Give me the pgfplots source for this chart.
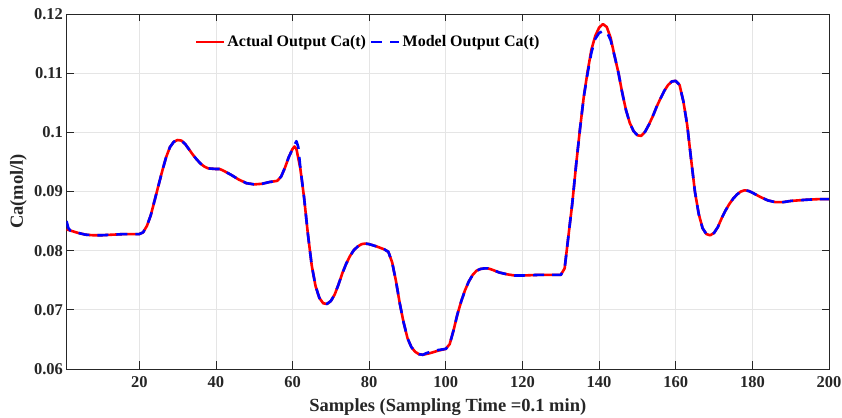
\documentclass[border=0pt]{standalone}
\usepackage{fontspec}
\setmainfont{Liberation Serif}
\usepackage{pgfplots}
\usepackage{pgfplotstable}
\pgfplotsset{compat=1.18}

\pgfplotstableread{
x y
1 0.0836
2 0.0834
4 0.0830
6 0.0827
8 0.0826
10 0.0826
13 0.0827
16 0.0828
20 0.0828
21 0.0831
22 0.0842
23 0.0860
24 0.0885
25 0.0910
26 0.0935
27 0.0958
28 0.0975
29 0.0984
30 0.0987
31 0.0986
32 0.0980
33 0.0971
34 0.0962
35 0.0954
36 0.0947
37 0.0942
38 0.0939
40 0.0938
41 0.0938
42 0.0935
44 0.0928
46 0.0920
48 0.0914
50 0.0912
52 0.0913
54 0.0916
56 0.0918
57 0.0925
58 0.0940
59 0.0958
60 0.0972
60.5 0.0976
61 0.0972
62 0.0940
63 0.0890
64 0.0828
65 0.0775
66 0.0740
67 0.0720
68 0.0711
69 0.0710
70 0.0715
71 0.0726
72 0.0743
73 0.0762
74 0.0778
75 0.0791
76 0.0801
77 0.0807
78 0.0811
79 0.0812
80 0.0811
82 0.0807
84 0.0802
85 0.0798
86 0.0780
87 0.0748
88 0.0710
89 0.0678
90 0.0652
91 0.0637
92 0.0629
93 0.0625
94 0.0624
96 0.0627
98 0.0631
100 0.0634
101 0.0642
102 0.0665
103 0.0692
104 0.0714
105 0.0733
106 0.0748
107 0.0759
108 0.0766
109 0.0769
110 0.0770
111 0.0770
112 0.0768
114 0.0763
116 0.0760
118 0.0758
120 0.0758
124 0.0759
128 0.0759
130 0.0759
131 0.0770
132 0.0825
133 0.0880
134 0.0945
135 0.1005
136 0.1060
137 0.1103
138 0.1140
139 0.1163
140 0.1177
141 0.1183
142 0.1178
143 0.1160
144 0.1130
145 0.1102
146 0.1068
147 0.1038
148 0.1016
149 0.1002
150 0.0995
151 0.0994
152 0.1001
153 0.1013
154 0.1027
155 0.1043
156 0.1057
157 0.1070
158 0.1080
159 0.1086
160 0.1087
161 0.1080
162 0.1052
163 0.1012
164 0.0955
165 0.0900
166 0.0862
167 0.0838
168 0.0828
169 0.0826
170 0.0830
171 0.0840
172 0.0855
173 0.0868
174 0.0879
175 0.0888
176 0.0895
177 0.0900
178 0.0902
179 0.0901
180 0.0898
182 0.0891
184 0.0885
186 0.0882
188 0.0882
190 0.0884
194 0.0886
197 0.0887
200 0.0887
}\actual

\pgfplotstableread{
x y
1 0.0850
1.5 0.0838
2 0.0834
4 0.0830
6 0.0827
8 0.0826
10 0.0826
13 0.0827
16 0.0828
20 0.0828
21 0.0831
22 0.0842
23 0.0860
24 0.0885
25 0.0910
26 0.0935
27 0.0958
28 0.0975
29 0.0984
30 0.0987
31 0.0986
32 0.0980
33 0.0971
34 0.0962
35 0.0954
36 0.0947
37 0.0942
38 0.0939
40 0.0938
41 0.0938
42 0.0935
44 0.0928
46 0.0920
48 0.0914
50 0.0912
52 0.0913
54 0.0916
56 0.0918
57 0.0925
58 0.0940
59 0.0958
60 0.0972
61 0.0985
61.5 0.0975
62 0.0942
63 0.0890
64 0.0828
65 0.0775
66 0.0740
67 0.0720
68 0.0711
69 0.0710
70 0.0715
71 0.0726
72 0.0743
73 0.0762
74 0.0778
75 0.0791
76 0.0801
77 0.0807
78 0.0811
79 0.0812
80 0.0811
82 0.0807
84 0.0802
85 0.0798
86 0.0780
87 0.0748
88 0.0710
89 0.0678
90 0.0652
91 0.0637
92 0.0629
93 0.0625
94 0.0624
95 0.0627
96 0.0629
98 0.0632
100 0.0634
101 0.0642
102 0.0665
103 0.0692
104 0.0714
105 0.0733
106 0.0748
107 0.0759
108 0.0766
109 0.0769
110 0.0770
111 0.0770
112 0.0768
114 0.0763
116 0.0760
118 0.0758
120 0.0758
124 0.0759
128 0.0759
130 0.0759
131 0.0770
132 0.0825
133 0.0880
134 0.0945
135 0.1005
136 0.1060
137 0.1100
138 0.1135
139 0.1158
140 0.1168
141 0.1171
142 0.1170
143 0.1156
144 0.1130
145 0.1102
146 0.1068
147 0.1038
148 0.1016
149 0.1002
150 0.0995
151 0.0994
152 0.1001
153 0.1013
154 0.1027
155 0.1043
156 0.1057
157 0.1070
158 0.1080
159 0.1086
160 0.1087
161 0.1080
162 0.1052
163 0.1012
164 0.0955
165 0.0900
166 0.0862
167 0.0838
168 0.0828
169 0.0826
170 0.0830
171 0.0840
172 0.0855
173 0.0868
174 0.0879
175 0.0888
176 0.0895
177 0.0900
178 0.0902
179 0.0901
180 0.0898
182 0.0891
184 0.0885
186 0.0882
188 0.0882
190 0.0884
194 0.0886
197 0.0887
200 0.0887
}\model

\begin{document}
\begin{tikzpicture}
\begin{axis}[
  scale only axis,
  width=762.5pt, height=355pt,
  xmin=1, xmax=200, ymin=0.06, ymax=0.12,
  xtick={20,40,60,80,100,120,140,160,180,200},
  ytick={0.06,0.07,0.08,0.09,0.1,0.11,0.12},
  yticklabels={0.06,0.07,0.08,0.09,0.1,0.11,0.12},
  tick align=inside,
  xtick pos=both, ytick pos=both,
  major tick length=7.5pt,
  grid=major,
  major grid style={line width=0.7pt, draw=black!10},
  axis line style={line width=0.8pt, draw=black!85},
  every tick/.style={line width=0.8pt, draw=black!85},
  /pgf/number format/assume math mode=true,
  ticklabel style={font=\fontsize{16.5}{18}\selectfont\bfseries, text=black!85},
  xticklabel style={yshift=-4pt},
  xlabel={Samples (Sampling Time =0.1 min)},
  ylabel={Ca(mol/l)},
  label style={font=\fontsize{18.5}{20}\selectfont\bfseries, text=black!85},
  xlabel style={at={(axis description cs:0.5,-0.107)}, anchor=center},
  ylabel style={at={(axis description cs:-0.0631,0.5)}, anchor=center},
  legend columns=2,
  legend image code/.code={\draw[#1] (0pt,0pt) -- (28pt,0pt);},
  legend style={at={(axis description cs:0.168,0.921)}, anchor=west,
    draw=none, fill=none, inner sep=0pt,
    font=\fontsize{16}{18}\selectfont\bfseries,
    nodes={inner sep=2pt},
    /tikz/every even column/.append style={column sep=2pt}},
]
\addplot[red, line width=2.6pt, line join=round] table[x=x,y=y] {\actual};
\addlegendentry{Actual Output Ca(t)}
\addplot[blue, line width=2.6pt, line join=round, dash pattern=on 11pt off 8pt] table[x=x,y=y] {\model};
\addlegendentry{Model Output Ca(t)}
\end{axis}
\pgfresetboundingbox
\path[use as bounding box] ([xshift=-66.5pt,yshift=-49pt]current axis.south west) rectangle ([xshift=13pt,yshift=14pt]current axis.north east);
\end{tikzpicture}
\end{document}
